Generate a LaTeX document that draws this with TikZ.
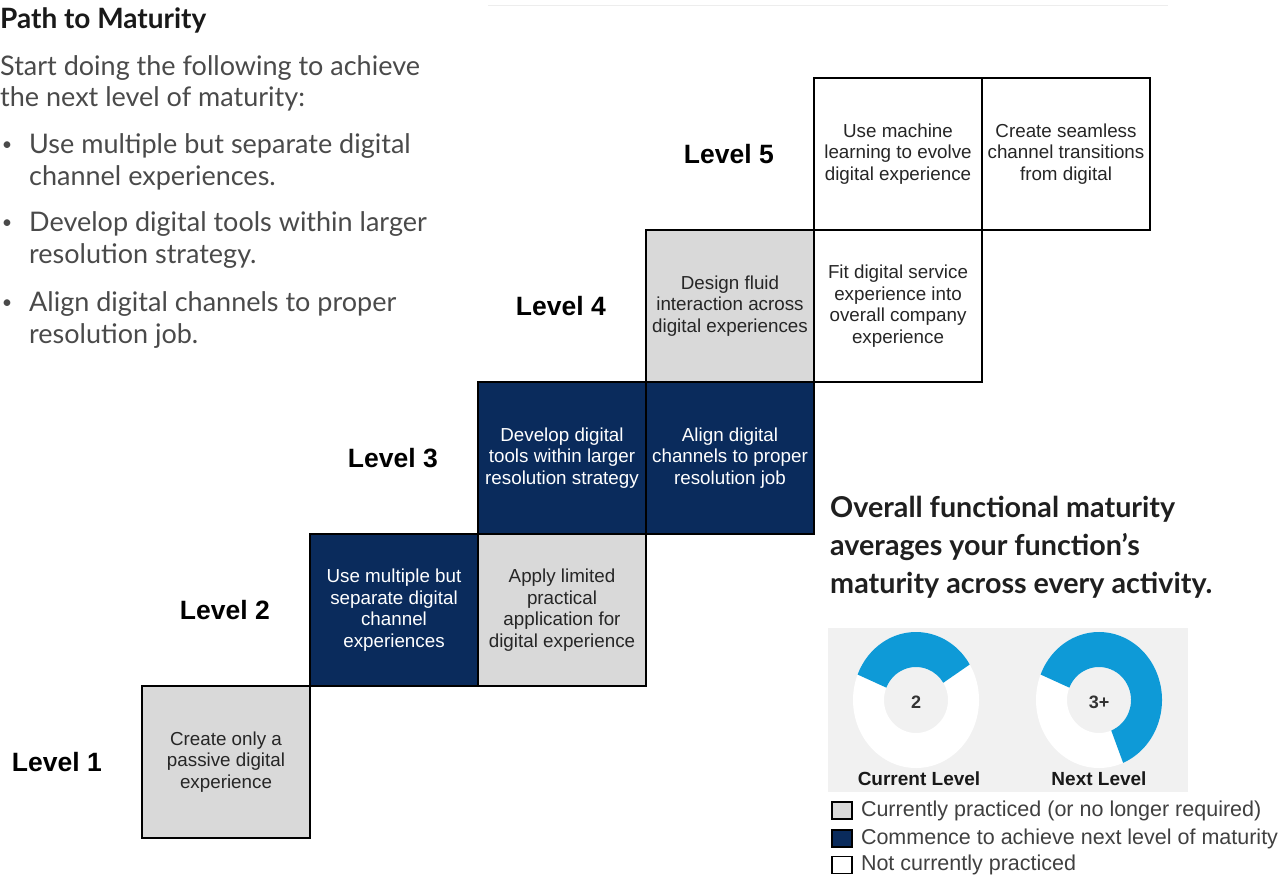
\documentclass[tikz,border=0pt]{standalone}
\usepackage{fontspec}
\setmainfont{Lato}
\newfontfamily\arialfont{Liberation Sans}
\usepackage{xcolor}
\usetikzlibrary{positioning}

\definecolor{cellgray}{HTML}{D9D9D9}
\definecolor{cellnavy}{HTML}{0A2B5C}
\definecolor{ringblue}{HTML}{0E9AD7}
\definecolor{panelgray}{HTML}{F1F1F1}
\definecolor{bodytext}{HTML}{4A4A4A}

\begin{document}
\begin{tikzpicture}[x=1pt, y=-1pt,
  cell/.style={draw=black, line width=1.8pt, minimum width=168pt, minimum height=152pt,
    outer sep=0pt, inner sep=0pt, align=center, text=black!85,
    font=\arialfont\fontsize{18.8}{21.5}\selectfont},
  was/.style={cell, fill=cellgray},
  now/.style={cell, fill=cellnavy, text=white},
  todo/.style={cell, fill=white},
  level/.style={inner sep=0pt, font=\arialfont\bfseries\fontsize{26.5}{28}\selectfont},
  body/.style={inner sep=0pt, anchor=base west, align=left, text=bodytext,
    font=\fontsize{27}{31.7}\selectfont},
  ring/.style={fill=white, even odd rule},
  key/.style={draw=black, line width=1.6pt, minimum width=20pt, minimum height=17pt, inner sep=0pt},
  keytext/.style={inner sep=0pt, text=black!75, font=\arialfont\fontsize{21.5}{23}\selectfont},
  donut/.style={font=\arialfont\bfseries\fontsize{18}{20}\selectfont, text=black!80},
  donutlab/.style={font=\arialfont\bfseries\fontsize{19}{21}\selectfont, text=black!90}]
\useasboundingbox (0,0) rectangle (1279,876);

\draw[black!7, line width=1pt] (488,5) -- (1168,5);

\node[inner sep=0pt, anchor=base west, text=black!90, font=\bfseries\fontsize{28}{30}\selectfont]
  (title) at (0,28) {Path to Maturity};
\node[body] (intro) at (0,106.7) {Start doing the following to achieve\\the next level of maturity:};
\node[body] (b1) at (29,185) {Use multiple but separate digital\\channel experiences.};
\node[body] (b2) at (29,263.3) {Develop digital tools within larger\\resolution strategy.};
\node[body] (b3) at (29,343.3) {Align digital channels to proper\\resolution job.};
\foreach \y in {150.5,228.8,308.8}
  \node[body, anchor=base, font=\fontsize{18}{20}\selectfont] at (7,\y) {•};

\node[was] (L1) at (226,762) {Create only a\\passive digital\\experience};
\node[now, above right=0pt and 0pt of L1] (L2a) {Use multiple but\\separate digital\\channel\\experiences};
\node[was, right=0pt of L2a] (L2b) {Apply limited\\practical\\application for\\digital experience};
\node[now, above=0pt of L2b] (L3a) {Develop digital\\tools within larger\\resolution strategy};
\node[now, right=0pt of L3a] (L3b) {Align digital\\channels to proper\\resolution job};
\node[was, above=0pt of L3b] (L4a) {Design fluid\\interaction across\\digital experiences};
\node[todo, right=0pt of L4a] (L4b) {Fit digital service\\experience into\\overall company\\experience};
\node[todo, above=0pt of L4b] (L5a) {Use machine\\learning to evolve\\digital experience};
\node[todo, right=0pt of L5a] (L5b) {Create seamless\\channel transitions\\from digital};

\node[level, left=40pt of L1] (T1) {Level 1};
\node[level, left=40pt of L2a] (T2) {Level 2};
\node[level, left=40pt of L3a] (T3) {Level 3};
\node[level, left=40pt of L4a] (T4) {Level 4};
\node[level, left=40pt of L5a] (T5) {Level 5};

\node[inner sep=0pt, anchor=base west, align=left, text=black!88,
  font=\bfseries\fontsize{28.7}{38}\selectfont] (note) at (830,593)
  {Overall functional maturity\\averages your function’s\\maturity across every activity.};

\fill[panelgray] (828,628) rectangle (1188,792);
\fill[ring] (916,700) ellipse[x radius=63, y radius=68] (916,700) ellipse[x radius=32, y radius=33];
\fill[ringblue] (916,700) ++(-31.5:63 and 68) arc[start angle=-31.5, end angle=-158, x radius=63, y radius=68]
  -- ++(-158:-31 and -35) arc[start angle=-158, end angle=-31.5, x radius=32, y radius=33] -- cycle;
\fill[ring] (1099,700) ellipse[x radius=63, y radius=68] (1099,700) ellipse[x radius=32, y radius=33];
\fill[ringblue] (1099,700) ++(67.5:63 and 68) arc[start angle=67.5, end angle=-158, x radius=63, y radius=68]
  -- ++(-158:-31 and -35) arc[start angle=-158, end angle=67.5, x radius=32, y radius=33] -- cycle;
\node[donut] (cur) at (916,702) {2};
\node[donut] (nxt) at (1099,702) {3+};
\node[donutlab] (curlab) at (919,779) {Current Level};
\node[donutlab] (nxtlab) at (1099,779) {Next Level};

\node[key, fill=cellgray] (K1) at (842,810.5) {};
\node[key, fill=cellnavy] (K2) at (842,838.5) {};
\node[key, fill=white] (K3) at (842,865) {};
\node[keytext, right=8pt of K1] {Currently practiced (or no longer required)};
\node[keytext, right=8pt of K2] {Commence to achieve next level of maturity};
\node[keytext, right=8pt of K3] {Not currently practiced};
\end{tikzpicture}
\end{document}
